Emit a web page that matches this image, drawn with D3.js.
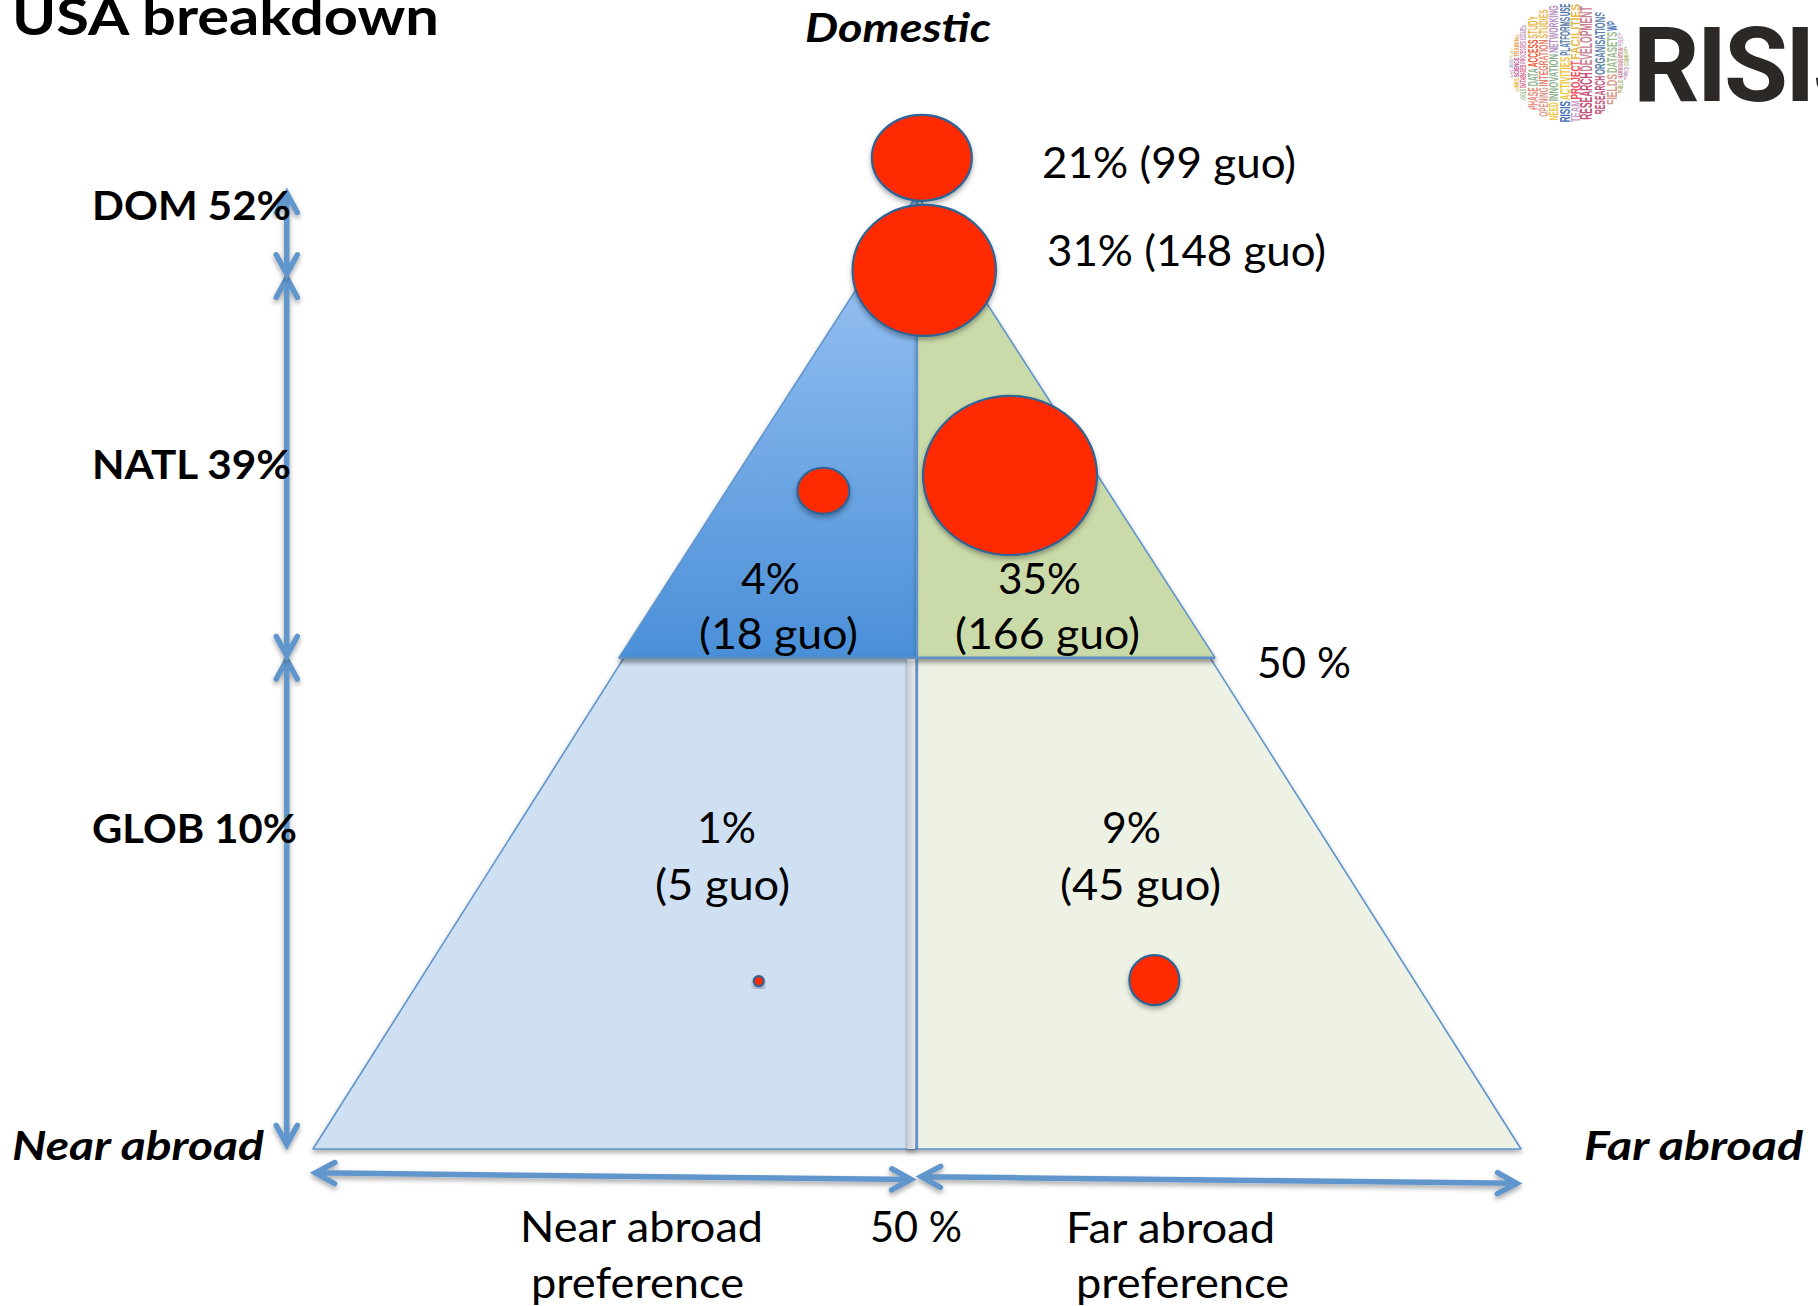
<!DOCTYPE html>
<html>
<head>
<meta charset="utf-8">
<style>
  html, body { margin: 0; padding: 0; background: #fff; overflow: hidden; }
  text { font-family: Lato, "Open Sans", sans-serif; fill: #000; }
</style>
<script src="https://cdnjs.cloudflare.com/ajax/libs/d3/7.8.5/d3.min.js"></script>
</head>
<body>
<div id="chart"></div>
<script>
// segment values, top to bottom
var segments = ["top", "domestic", "natlFar", "natlNear", "globFar", "globNear"];
var percents = [21, 31, 35, 4, 9, 1];
var guos = [99, 148, 166, 18, 45, 5];
// where each bubble sits: % of the base (near -> far) and % of the height
var farShare = [50.4, 50.6, 57.7, 42.25, 69.65, 36.9];
var domShare = [103.9, 92.1, 70.6, 69.0, 17.7, 17.6];
// bubble size (not the same thing as guo count)
var bubbleSize = [54.8, 112.7, 166, 14.8, 13.7, 0.55];
var bubbleSquash = [0.86, 0.914, 0.914, 0.885, 1, 1];

var tierNames = ["DOM", "NATL", "GLOB"];
var tierPercents = [52, 39, 10];
var tierEdges = [0, 51.5, 91.5, 100.7];

var width = 1818, height = 1306;

var x = d3.scaleLinear().domain([0, 100]).range([313, 1521]);
var y = d3.scaleLinear().domain([0, 100]).range([1149, 195]);
var rx = d3.scaleSqrt().domain([0, 166]).range([0, 87]);

var svg = d3.select("#chart").append("svg")
    .attr("width", width)
    .attr("height", height)
    .style("display", "block");

var defs = svg.append("defs");

var shadow = defs.append("filter").attr("id", "shadow")
    .attr("x", "-20%").attr("y", "-20%").attr("width", "140%").attr("height", "140%");
shadow.append("feDropShadow")
    .attr("dx", 0).attr("dy", 3).attr("stdDeviation", 2.5)
    .attr("flood-color", "#000").attr("flood-opacity", 0.32);

var lineShadow = defs.append("filter").attr("id", "lineShadow")
    .attr("filterUnits", "userSpaceOnUse")
    .attr("x", 0).attr("y", 0).attr("width", width).attr("height", height);
lineShadow.append("feDropShadow")
    .attr("dx", 0).attr("dy", 3).attr("stdDeviation", 2.5)
    .attr("flood-color", "#000").attr("flood-opacity", 0.35);

var grad = defs.append("linearGradient").attr("id", "blueFade")
    .attr("gradientUnits", "userSpaceOnUse")
    .attr("x1", 0).attr("x2", 0).attr("y1", y(100)).attr("y2", y(51.5));
grad.append("stop").attr("offset", "0%").attr("stop-color", "#a3c9f7");
grad.append("stop").attr("offset", "100%").attr("stop-color", "#4a8fd8");

var stripGrad = defs.append("linearGradient").attr("id", "stripFade");
stripGrad.append("stop").attr("offset", "0%").attr("stop-color", "#c9ced6");
stripGrad.append("stop").attr("offset", "100%").attr("stop-color", "#e6e8ec");

var logoCx = 1569, logoCy = 63, logoR = 60;
defs.append("clipPath").attr("id", "logoClip")
    .append("circle").attr("cx", logoCx).attr("cy", logoCy).attr("r", logoR);

// the pyramid edges: near side goes 0 -> 50, far side 100 -> 50
// the upper triangle sits a little wider than the lower piece
var mid = tierEdges[1];
var wide = 0.42;
var line = d3.line().x(function(d) { return x(d[0]); }).y(function(d) { return y(d[1]); });
var sideAt = function(h) { return h / 2; };

var pieces = [
    {pts: [[0, 0], [50, 0], [50, mid], [sideAt(mid), mid]], fill: "#cfe0f3"},
    {pts: [[50, 0], [100, 0], [100 - sideAt(mid), mid], [50, mid]], fill: "#eef2e4"},
    {pts: [[sideAt(mid) - wide, mid], [50, mid], [50, 100]], fill: "url(#blueFade)"},
    {pts: [[50, mid], [100 - sideAt(mid) + wide, mid], [50, 100]], fill: "#cbdaa9"}
];

svg.append("g").selectAll("path")
    .data(pieces)
    .enter().append("path")
    .attr("d", function(d) { return line(d.pts) + "Z"; })
    .attr("fill", function(d) { return d.fill; })
    .attr("stroke", "#5f95cc")
    .attr("stroke-width", 1.6)
    .attr("stroke-linejoin", "round")
    .attr("filter", "url(#shadow)");

// grey strip left of the centre line, lower half only
svg.append("rect")
    .attr("x", x(50) - 10)
    .attr("y", y(mid) + 1)
    .attr("width", 8)
    .attr("height", y(0) - y(mid) - 1)
    .attr("fill", "url(#stripFade)")
    .attr("filter", "url(#shadow)");

svg.append("line")
    .attr("x1", x(50)).attr("x2", x(50))
    .attr("y1", y(100)).attr("y2", y(0))
    .attr("stroke", "#5f95cc").attr("stroke-width", 2.4);

svg.append("line")
    .attr("x1", x(sideAt(mid) - wide)).attr("x2", x(100 - sideAt(mid) + wide))
    .attr("y1", y(mid)).attr("y2", y(mid))
    .attr("stroke", "#5f8fc4").attr("stroke-width", 2.4)
    .attr("filter", "url(#lineShadow)");

// bubbles
var order = d3.range(segments.length);
svg.append("g").selectAll("ellipse")
    .data(order)
    .enter().append("ellipse")
    .attr("cx", function(i) { return x(farShare[i]); })
    .attr("cy", function(i) { return y(domShare[i]); })
    .attr("rx", function(i) { return rx(bubbleSize[i]); })
    .attr("ry", function(i) { return rx(bubbleSize[i]) * bubbleSquash[i]; })
    .attr("fill", "#ff2a00")
    .attr("stroke", "#2f6496")
    .attr("stroke-width", 2.2)
    .attr("filter", "url(#shadow)");

// arrows, open V at both ends
function arrow(g, x1, y1, x2, y2) {
    var a = Math.atan2(y2 - y1, x2 - x1);
    var head = function(px, py, ang) {
        var arm = 22, spread = 0.5;
        return "M" + (px + arm * Math.cos(ang - spread)) + "," + (py + arm * Math.sin(ang - spread)) +
            "L" + px + "," + py +
            "L" + (px + arm * Math.cos(ang + spread)) + "," + (py + arm * Math.sin(ang + spread));
    };
    g.append("path")
        .attr("d", "M" + x1 + "," + y1 + "L" + x2 + "," + y2 + head(x1, y1, a) + head(x2, y2, a + Math.PI))
        .attr("fill", "none")
        .attr("stroke", "#6196cb")
        .attr("stroke-width", 5.5)
        .attr("stroke-linecap", "round")
        .attr("stroke-linejoin", "miter")
        .attr("filter", "url(#lineShadow)");
}

var arrows = svg.append("g");
var arrowX = x(-2.17);
// outer tips pulled in a little, the miter adds length
var arrowEdges = [0.25, tierEdges[1], tierEdges[2], 100.4];
d3.pairs(arrowEdges).forEach(function(p) {
    arrow(arrows, arrowX, y(p[1]) + 2, arrowX, y(p[0]) - 2);
});
arrow(arrows, x(0.2), y(-2.5), x(49.5), y(-3.2));
arrow(arrows, x(50.35), y(-2.9), x(99.65), y(-3.6));

// all text: string, left edge, right edge, baseline, style
var texts = [
    ["USA breakdown", 12, 439, 35, 52, "b"],
    ["Domestic", 805, 991, 42, 41, "bi"],
    [percents[0] + "% (" + guos[0] + " guo)", 1042, 1296, 178, 43, ""],
    [percents[1] + "% (" + guos[1] + " guo)", 1047, 1326, 266, 43, ""],
    [tierNames[0] + " " + tierPercents[0] + "%", 92, 291, 220, 41, "b"],
    [tierNames[1] + " " + tierPercents[1] + "%", 92, 291, 479, 41, "b"],
    [tierNames[2] + " " + tierPercents[2] + "%", 92, 297, 843, 41, "b"],
    [percents[3] + "%", 741, 800, 594, 43, ""],
    ["(" + guos[3] + " guo)", 699, 858, 649, 43, ""],
    [percents[2] + "%", 998, 1081, 594, 43, ""],
    ["(" + guos[2] + " guo)", 955, 1140, 649, 43, ""],
    ["50 %", 1257, 1351, 678, 43, ""],
    [percents[5] + "%", 697, 756, 843, 43, ""],
    ["(" + guos[5] + " guo)", 655, 790, 900, 43, ""],
    [percents[4] + "%", 1102, 1161, 843, 43, ""],
    ["(" + guos[4] + " guo)", 1060, 1221, 900, 43, ""],
    ["Near abroad", 12, 264, 1160, 41, "bi"],
    ["Far abroad", 1584, 1803, 1160, 41, "bi"],
    ["Near abroad", 520, 763, 1242, 43, ""],
    ["preference", 531, 744, 1298, 43, ""],
    ["50 %", 870, 962, 1242, 43, ""],
    ["Far abroad", 1066, 1275, 1243, 43, ""],
    ["preference", 1076, 1289, 1298, 43, ""]
];

svg.append("g").selectAll("text")
    .data(texts)
    .enter().append("text")
    .attr("x", function(d) { return d[1]; })
    .attr("y", function(d) { return d[3]; })
    .attr("textLength", function(d) { return d[2] - d[1]; })
    .attr("lengthAdjust", "spacingAndGlyphs")
    .style("font-size", function(d) { return d[4] + "px"; })
    .style("font-weight", function(d) { return d[5].indexOf("b") >= 0 ? 700 : 400; })
    .style("font-style", function(d) { return d[5].indexOf("i") >= 0 ? "italic" : "normal"; })
    .text(function(d) { return d[0]; });

// logo word cloud: columns left to right, each stacked top to bottom and
// stretched to fill the disc. [column width, [word, colour], ...]
var logoColumns = [
    [5, ["POLICY", "#d7c77a"], ["USERS", "#8fa8c8"], ["BOARD", "#c9a0c9"]],
    [6, ["TRAINING", "#e8a05a"], ["SCIENCE", "#c0458f"], ["LINKS", "#e8b84b"]],
    [7, ["ISSUES", "#b58fc0"], ["PROCESSES", "#c77fae"], ["DATABASES", "#d4567a"], ["TOOLS", "#9dbb8c"]],
    [12, ["STUDY", "#e8b84b"], ["ACCESS", "#e85c35"], ["DATA", "#8fb28f"], ["PHASE", "#e88a7a"]],
    [10, ["STUDIES", "#e8b84b"], ["INTEGRATION", "#e8836a"], ["OPENING", "#d99a8a"]],
    [10, ["NETWORKING", "#b58fc0"], ["INNOVATION", "#8fb28f"], ["NEED", "#eec63f"]],
    [12, ["USE", "#4a72b0"], ["PLATFORMS", "#5a7fa8"], ["ACTIVITIES", "#eec63f"], ["RISIS", "#3f6fb5"]],
    [10, ["FACILITIES", "#e8b84b"], ["PROJECT", "#ee4d5a"], ["TEAM", "#c9a0c9"]],
    [13, ["DEVELOPMENT", "#c77f93"], ["RESEARCH", "#c2557b"]],
    [12, ["ORGANISATIONS", "#5a7fa8"], ["RESEARCH", "#c2557b"]],
    [12, ["WP", "#3f6fb5"], ["DATASETS", "#9dbb8c"], ["FIELDS", "#d99a8a"]],
    [6, ["POLICY", "#c9a0c9"], ["HARMONISATION", "#c77f93"], ["PUBLIC", "#a6b46a"]],
    [6, ["COMMUNITY", "#a6b46a"], ["TOPICS", "#b58fc0"]]
];

var logoTotal = d3.sum(logoColumns, function(c) { return c[0]; });
var colX = logoCx - logoTotal / 2;
var logoWords = [];
logoColumns.forEach(function(c) {
    var w = c[0], cx = colX + w / 2, words = c.slice(1);
    var half = Math.sqrt(Math.max(logoR * logoR - (cx - logoCx) * (cx - logoCx), 100));
    var chars = d3.sum(words, function(d) { return d[0].length; });
    var top = logoCy - half;
    words.forEach(function(d) {
        var len = 2 * half * d[0].length / chars;
        logoWords.push({text: d[0], color: d[1], w: w, cx: cx, bottom: top + len, len: len});
        top += len;
    });
    colX += w;
});

var logo = svg.append("g").attr("clip-path", "url(#logoClip)");
logo.selectAll("text")
    .data(logoWords)
    .enter().append("text")
    .attr("transform", function(d) { return "translate(" + (d.cx + d.w * 0.42) + "," + (d.bottom - 0.5) + ") rotate(-90)"; })
    .attr("textLength", function(d) { return d.len - 1; })
    .attr("lengthAdjust", "spacingAndGlyphs")
    .style("font-family", "'Liberation Sans Narrow', 'Liberation Sans', sans-serif")
    .style("font-weight", 700)
    .style("font-size", function(d) { return d.w * 1.2 + "px"; })
    .style("fill", function(d) { return d.color; })
    .text(function(d) { return d.text; });

svg.append("text")
    .attr("x", 1633)
    .attr("y", 101)
    .style("font-family", "Roboto, sans-serif")
    .style("font-weight", 700)
    .style("font-size", "104px")
    .style("letter-spacing", "-3px")
    .style("fill", "#2b2826")
    .text("RISIS");
</script>
</body>
</html>
